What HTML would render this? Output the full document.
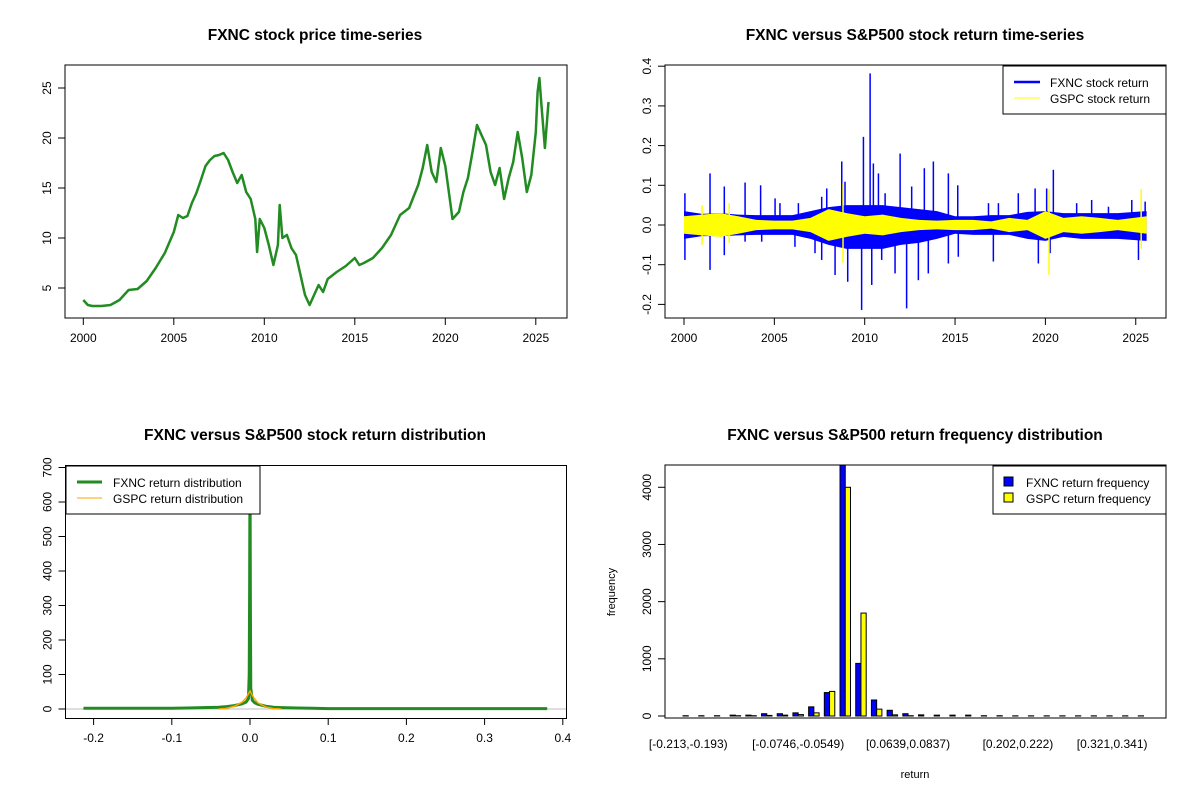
<!DOCTYPE html>
<html><head><meta charset="utf-8"><style>
body{margin:0;background:#fff}
svg{display:block;font-family:"Liberation Sans",Arial,sans-serif}
</style></head><body>
<svg id="c" width="1200" height="800" viewBox="0 0 1200 800">
<rect width="1200" height="800" fill="#fff"/>
<g id="p1"></g>
<g id="p2"></g>
<g id="p3"></g>
<g id="p4"></g>
</svg>
<script>
// ---- data ----
const priceYears=[2000,2000.25,2000.5,2001,2001.5,2002,2002.5,2003,2003.5,2004,2004.5,2005,2005.25,2005.5,2005.75,2006,2006.25,2006.5,2006.75,2007,2007.25,2007.5,2007.75,2008,2008.25,2008.5,2008.75,2009,2009.25,2009.5,2009.6,2009.75,2010,2010.25,2010.5,2010.75,2010.85,2011,2011.25,2011.5,2011.75,2012,2012.25,2012.5,2012.75,2013,2013.25,2013.5,2014,2014.5,2015,2015.25,2015.5,2016,2016.5,2017,2017.5,2018,2018.5,2018.75,2019,2019.25,2019.5,2019.75,2020,2020.25,2020.4,2020.75,2021,2021.25,2021.5,2021.75,2022,2022.25,2022.5,2022.75,2023,2023.25,2023.5,2023.75,2024,2024.25,2024.5,2024.75,2025,2025.1,2025.2,2025.3,2025.5,2025.6,2025.7];
const priceVals=[3.8,3.3,3.2,3.2,3.3,3.8,4.8,4.9,5.7,7,8.5,10.6,12.3,12,12.2,13.5,14.5,15.8,17.2,17.8,18.2,18.3,18.5,17.8,16.6,15.5,16.3,14.6,13.9,11.9,8.6,11.9,11,9.3,7.3,9.3,13.3,10,10.3,9,8.3,6.3,4.3,3.3,4.3,5.3,4.6,5.9,6.6,7.2,8,7.3,7.5,8,9,10.3,12.3,13,15.3,17,19.3,16.6,15.6,19,17.2,13.9,11.9,12.6,14.6,16,18.6,21.3,20.3,19.3,16.6,15.3,17,13.9,16,17.6,20.6,18,14.6,16.3,20.6,24.6,26,23.6,19,21.3,23.6];
const yearTicks=[2000,2005,2010,2015,2020,2025];
const priceTicks=[5,10,15,20,25];

const bandYears=[2000,2001,2002,2003,2004,2005,2006,2007,2008,2009,2010,2011,2012,2013,2014,2015,2016,2017,2018,2019,2020,2021,2022,2023,2024,2025.6];
const fxncBandUp=[0.035,0.028,0.03,0.026,0.025,0.025,0.025,0.035,0.045,0.05,0.05,0.05,0.045,0.04,0.035,0.022,0.022,0.025,0.025,0.033,0.035,0.03,0.03,0.03,0.03,0.035];
const fxncBandDn=[0.035,0.028,0.028,0.026,0.025,0.025,0.025,0.035,0.05,0.06,0.06,0.06,0.05,0.045,0.035,0.022,0.025,0.025,0.025,0.035,0.04,0.03,0.035,0.035,0.035,0.04];
const gspcBand=[0.022,0.026,0.03,0.022,0.013,0.011,0.011,0.018,0.04,0.03,0.022,0.026,0.018,0.013,0.011,0.013,0.013,0.009,0.018,0.013,0.035,0.018,0.022,0.018,0.013,0.022];
const fxncUpYears=[2000.05,2001.44,2002.23,2003.38,2004.24,2005.04,2005.31,2006.33,2007.62,2007.9,2008.73,2008.91,2009.93,2010.3,2010.48,2010.76,2011.13,2011.96,2012.6,2013.3,2013.8,2014.63,2015.15,2016.85,2017.4,2018.5,2019.43,2020.07,2020.44,2021.73,2022.56,2023.49,2024.78,2025.52];
const fxncUpVals=[0.08,0.13,0.097,0.107,0.1,0.067,0.055,0.055,0.071,0.092,0.16,0.109,0.222,0.382,0.155,0.13,0.08,0.18,0.097,0.143,0.16,0.13,0.1,0.055,0.055,0.08,0.092,0.092,0.139,0.055,0.063,0.046,0.063,0.059];
const fxncDnYears=[2000.05,2001.44,2002.23,2003.38,2004.3,2006.14,2007.25,2007.62,2008.36,2009.06,2009.83,2010.39,2010.94,2011.68,2012.32,2012.97,2013.52,2014.63,2015.18,2017.12,2019.61,2020.26,2025.15];
const fxncDnVals=[-0.088,-0.113,-0.076,-0.042,-0.042,-0.055,-0.071,-0.088,-0.126,-0.143,-0.214,-0.151,-0.088,-0.122,-0.21,-0.139,-0.122,-0.097,-0.08,-0.092,-0.097,-0.071,-0.088];
const gspcSpikeYears=[2001.0,2002.5,2008.8,2020.2,2025.3];
const gspcSpikeUp=[0.05,0.055,0.105,0.09,0.09];
const gspcSpikeDn=[-0.05,-0.045,-0.095,-0.125,-0.06];
const retTicks=[-0.2,-0.1,0.0,0.1,0.2,0.3,0.4];

const fxncDensX=[-0.213,-0.1,-0.08,-0.06,-0.04,-0.03,-0.02,-0.01,-0.005,-0.002,-0.001,-0.0005,0,0.0005,0.001,0.003,0.006,0.01,0.015,0.02,0.03,0.04,0.06,0.08,0.1,0.38];
const fxncDensY=[2,2,3,4,5,7,10,15,20,30,100,330,720,300,60,25,18,14,11,8,5,4,3,2,1,1];
const gspcDensX=[-0.04,-0.03,-0.02,-0.01,-0.005,0,0.005,0.01,0.02,0.03,0.04];
const gspcDensY=[0,2,8,20,32,52,32,18,6,1,0];
const densXTicks=[-0.2,-0.1,0.0,0.1,0.2,0.3,0.4];
const densYTicks=[0,100,200,300,400,500,600,700];

const binLabels=["[-0.213,-0.193)","[-0.0746,-0.0549)","[0.0639,0.0837)","[0.202,0.222)","[0.321,0.341)"];
const binLabelIdx=[0,7,14,21,27];
const fxncFreq=[5,5,5,15,15,40,40,55,160,410,4400,920,280,100,40,20,15,15,15,5,5,3,3,3,3,3,3,3,3,3];
const gspcFreq=[0,0,0,5,5,10,15,25,55,430,4000,1800,120,20,5,0,0,0,0,0,0,0,0,0,0,0,0,0,0,0];
const freqTicks=[0,1000,2000,3000,4000];

// ---- helpers ----
const NS="http://www.w3.org/2000/svg";
function mk(parent,tag,attrs,txt){const e=document.createElementNS(NS,tag);for(const k in attrs)e.setAttribute(k,attrs[k]);if(txt!==undefined)e.textContent=txt;parent.appendChild(e);return e;}
function box(g,x0,y0,x1,y1){const r=mk(g,'rect',{x:x0,y:y0,width:x1-x0,height:y1-y0,fill:'none',stroke:'#000','stroke-width':1});

}
function title(g,x,y,t){const e=mk(g,'text',{x:x,y:y,'text-anchor':'middle','font-size':15.5,'font-weight':'bold'},t);

}
function xTick(g,px,yb,lab){mk(g,'line',{x1:px,x2:px,y1:yb,y2:yb+7,stroke:'#000'});const t=mk(g,'text',{x:px,y:yb+24,'text-anchor':'middle','font-size':12},lab);

}
function yTick(g,py,xl,lab){mk(g,'line',{x1:xl-7,x2:xl,y1:py,y2:py,stroke:'#000'});const t=mk(g,'text',{x:xl-14,y:py,'text-anchor':'middle','font-size':12,transform:`rotate(-90 ${xl-14} ${py})`},lab);

}
function fmt(v,d){return v.toFixed(d);}

// ---- panel 1: price ----
(function(){
const g=document.getElementById('p1');
const X=y=>83.3+(y-2000)*18.1, Y=v=>288-(v-5)*10;
title(g,315,40,'FXNC stock price time-series');
const pts=priceYears.map((y,i)=>X(y).toFixed(1)+','+Y(priceVals[i]).toFixed(1)).join(' ');
const l=mk(g,'polyline',{points:pts,fill:'none',stroke:'#228B22','stroke-width':2.5,'stroke-linejoin':'round'});


box(g,65,65,567,318);
yearTicks.forEach(y=>xTick(g,X(y),318,String(y)));
priceTicks.forEach(v=>yTick(g,Y(v),65,String(v)));
})();

// ---- panel 2: returns ----
(function(){
const g=document.getElementById('p2');
const X=y=>684+(y-2000)*18.07, Y=v=>225-v*397;
title(g,915,40,'FXNC versus S&P500 stock return time-series');
let up=bandYears.map((y,i)=>X(y)+','+Y(fxncBandUp[i])).join(' ');
let dn=bandYears.slice().reverse().map((y,j)=>{const i=bandYears.length-1-j;return X(y)+','+Y(-fxncBandDn[i]);}).join(' ');
const fb=mk(g,'polygon',{points:up+' '+dn,fill:'#0000FF'});


fxncUpYears.forEach((y,i)=>{const s=mk(g,'line',{x1:X(y),x2:X(y),y1:Y(0),y2:Y(fxncUpVals[i]),stroke:'#0000FF','stroke-width':1.5});

});
fxncDnYears.forEach((y,i)=>{const s=mk(g,'line',{x1:X(y),x2:X(y),y1:Y(0),y2:Y(fxncDnVals[i]),stroke:'#0000FF','stroke-width':1.5});

});
let gu=bandYears.map((y,i)=>X(y)+','+Y(gspcBand[i])).join(' ');
let gd=bandYears.slice().reverse().map((y,j)=>{const i=bandYears.length-1-j;return X(y)+','+Y(-gspcBand[i]);}).join(' ');
const gb=mk(g,'polygon',{points:gu+' '+gd,fill:'#FFFF00'});


gspcSpikeYears.forEach((y,i)=>{const s=mk(g,'line',{x1:X(y),x2:X(y),y1:Y(gspcSpikeDn[i]),y2:Y(gspcSpikeUp[i]),stroke:'#FFFF00','stroke-width':1.5});

});
box(g,665,65,1166,318);
yearTicks.forEach(y=>xTick(g,X(y),318,String(y)));
retTicks.forEach(v=>yTick(g,Y(v),665,fmt(v,1)));
const lg=mk(g,'g',{});


mk(lg,'rect',{x:1003,y:66,width:163,height:48,fill:'#fff',stroke:'#000'});
mk(lg,'line',{x1:1014,x2:1040,y1:82,y2:82,stroke:'#0000FF','stroke-width':2.5});
mk(lg,'text',{x:1050,y:87,'font-size':12},'FXNC stock return');
mk(lg,'line',{x1:1014,x2:1040,y1:98,y2:98,stroke:'#FFFF00','stroke-width':1});
mk(lg,'text',{x:1050,y:103,'font-size':12},'GSPC stock return');
})();

// ---- panel 3: density ----
(function(){
const g=document.getElementById('p3');
const X=v=>250+v*782, Y=v=>709-v*0.345;
title(g,315,440,'FXNC versus S&P500 stock return distribution');
const h=mk(g,'line',{x1:66,x2:566,y1:Y(0),y2:Y(0),stroke:'#BEBEBE'});


const fl=mk(g,'polyline',{points:fxncDensX.map((x,i)=>X(x)+','+Math.max(467,Y(fxncDensY[i]))).join(' '),fill:'none',stroke:'#228B22','stroke-width':3});


const gl=mk(g,'polyline',{points:gspcDensX.map((x,i)=>X(x)+','+Y(gspcDensY[i])).join(' '),fill:'none',stroke:'#FFA500','stroke-width':1.5});


box(g,65.5,465.5,566.5,718.5);
densXTicks.forEach(v=>xTick(g,X(v),718,fmt(v,1)));
densYTicks.forEach(v=>yTick(g,Y(v),65.5,String(v)));
const lg=mk(g,'g',{});


mk(lg,'rect',{x:66,y:466,width:194,height:48,fill:'#fff',stroke:'#000'});
mk(lg,'line',{x1:77,x2:102,y1:482,y2:482,stroke:'#228B22','stroke-width':3});
mk(lg,'text',{x:113,y:487,'font-size':12},'FXNC return distribution');
mk(lg,'line',{x1:77,x2:102,y1:498,y2:498,stroke:'#FFA500','stroke-width':1});
mk(lg,'text',{x:113,y:503,'font-size':12},'GSPC return distribution');
})();

// ---- panel 4: histogram ----
(function(){
const g=document.getElementById('p4');
const u=5.233, x0=677.8, Y=v=>716-v*0.05718;
title(g,915,440,'FXNC versus S&P500 return frequency distribution');
const clip=mk(g,'clipPath',{id:'c4'});mk(clip,'rect',{x:665,y:465,width:501,height:253});
const bars=mk(g,'g',{'clip-path':'url(#c4)'});
fxncFreq.forEach((v,i)=>{const b=mk(bars,'rect',{x:x0+(i*3+1)*u,y:Y(v),width:u,height:716-Y(v),fill:'#0000FF',stroke:'#000','stroke-width':1});

});
gspcFreq.forEach((v,i)=>{const b=mk(bars,'rect',{x:x0+(i*3+2)*u,y:Y(v),width:u,height:716-Y(v),fill:'#FFFF00',stroke:'#000','stroke-width':1});

});
box(g,665,465,1166,718);
binLabelIdx.forEach((i,k)=>{const t=mk(g,'text',{x:x0+(i*3+2)*u,y:748,'text-anchor':'middle','font-size':12},binLabels[k]);

});
freqTicks.forEach(v=>yTick(g,Y(v),665,String(v)));
const yt=mk(g,'text',{x:615,y:592,'text-anchor':'middle','font-size':11,transform:'rotate(-90 615 592)'},'frequency');


const xt=mk(g,'text',{x:915,y:778,'text-anchor':'middle','font-size':11},'return');


const lg=mk(g,'g',{});


mk(lg,'rect',{x:993,y:466,width:173,height:48,fill:'#fff',stroke:'#000'});
mk(lg,'rect',{x:1004,y:477,width:9,height:9,fill:'#0000FF',stroke:'#000'});
mk(lg,'text',{x:1026,y:487,'font-size':12},'FXNC return frequency');
mk(lg,'rect',{x:1004,y:493,width:9,height:9,fill:'#FFFF00',stroke:'#000'});
mk(lg,'text',{x:1026,y:503,'font-size':12},'GSPC return frequency');
})();
</script>
</body></html>
